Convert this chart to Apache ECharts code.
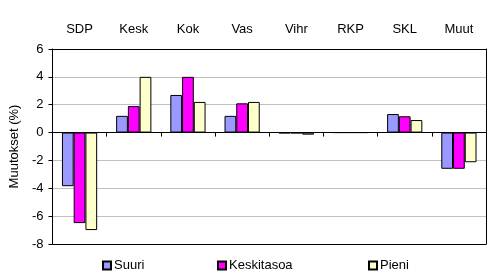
<!DOCTYPE html>
<html><head><meta charset="utf-8">
<script src="https://cdn.jsdelivr.net/npm/echarts@6/dist/echarts.min.js"></script>
<style>html,body{margin:0;padding:0;background:#fff}#c{width:493px;height:277px}</style>
</head><body><div id="c"></div>
<script>
const categories = ['SDP','Kesk','Kok','Vas','Vihr','RKP','SKL','Muut'];
const seriesNames = ['Suuri','Keskitasoa','Pieni'];
const suuri = [-3.85, 1.2, 2.7, 1.2, -0.05, 0, 1.33, -2.6];
const keskitasoa = [-6.5, 1.9, 4.0, 2.1, -0.05, 0, 1.17, -2.6];
const pieni = [-7.0, 4.0, 2.2, 2.2, -0.15, 0, 0.9, -2.13];
const yTicks = [-8,-6,-4,-2,0,2,4,6];
const colors = ['#9999FF','#FF00FF','#FFFFCC'];
const font = 'Liberation Sans, Arial, sans-serif';
const chart = echarts.init(document.getElementById('c'), null, {renderer:'canvas'});
const data = [suuri, keskitasoa, pieni];
const legendLefts = [97, 212, 363];
chart.setOption({
  animation:false,
  textStyle:{fontFamily:font},
  grid:{left:47,right:7,top:49,bottom:33,show:false},
  legend: seriesNames.map((n,i)=>({
    data:[n], left:legendLefts[i], top:254, itemWidth:8, itemHeight:8, itemGap:0,
    icon:'rect', textStyle:{fontFamily:font,fontSize:13,color:'#000',padding:[0,0,0,-2]}
  })),
  xAxis:[
    {type:'category',data:categories,position:'bottom',z:10,
     axisLine:{onZero:true,lineStyle:{color:'#000',width:1}},
     axisTick:{show:true,length:4,lineStyle:{color:'#000'}},
     axisLabel:{show:false},splitLine:{show:false}},
    {type:'category',data:categories,position:'top',z:10,
     axisLine:{show:true,onZero:false,lineStyle:{color:'#000',width:1}},axisTick:{show:false},
     axisLabel:{show:true,margin:13,color:'#000',fontSize:13,fontFamily:font}},
    {type:'category',data:categories,position:'bottom',z:10,
     axisLine:{show:true,onZero:false,lineStyle:{color:'#000',width:1}},axisTick:{show:false},
     axisLabel:{show:false},splitLine:{show:false}}
  ],
  yAxis:[
    {type:'value',min:yTicks[0],max:yTicks[yTicks.length-1],interval:2,z:1,
    name:'Muutokset (%)',nameLocation:'middle',nameGap:27,nameRotate:90,
    nameTextStyle:{color:'#000',fontSize:13,fontFamily:font},
    axisLine:{show:true,onZero:false,lineStyle:{color:'#000'}},
    axisTick:{show:true,length:4,lineStyle:{color:'#000'}},
    axisLabel:{color:'#000',fontSize:13,fontFamily:font,margin:9},
    splitLine:{show:true,showMinLine:false,showMaxLine:false,lineStyle:{color:'#C0C0C0',width:1}}},
    {type:'value',min:yTicks[0],max:yTicks[yTicks.length-1],interval:2,position:'right',z:10,
    axisLine:{show:true,onZero:false,lineStyle:{color:'#000',width:1}},axisTick:{show:false},
    axisLabel:{show:false},splitLine:{show:false}}
  ],
  series: seriesNames.map((n,i)=>({
    name:n,type:'bar',data:data[i],xAxisIndex:0,yAxisIndex:0,z:2,
    barGap:'0%',barCategoryGap:'35%',
    itemStyle:{color:colors[i],borderColor:'#000',borderWidth:1}
  }))
});
</script></body></html>
